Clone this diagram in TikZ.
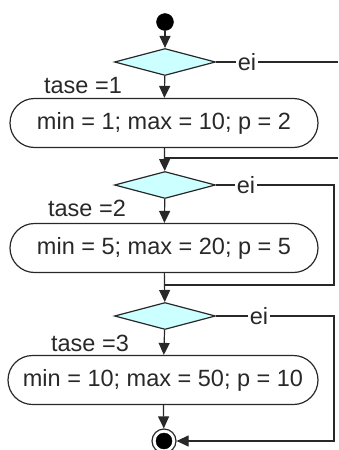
\documentclass[tikz,border=0pt]{standalone}
\usepackage{fontspec}
\setmainfont{Liberation Sans}
\usepackage{xcolor}
\usetikzlibrary{shapes.geometric, positioning, arrows.meta}

\definecolor{choicefill}{RGB}{204,255,255}
\definecolor{inkgray}{RGB}{40,40,40}

\tikzset{
  flowtext/.style={font=\fontsize{23.5}{28}\selectfont, text=inkgray},
  choice/.style={diamond, draw=inkgray, fill=choicefill, line width=1.2pt,
    minimum width=101pt, minimum height=27pt, inner sep=0pt},
  action/.style={rectangle, rounded corners=24.5pt, draw=inkgray, line width=1.2pt,
    minimum width=308pt, minimum height=49pt, inner sep=0pt, flowtext},
  guard/.style={inner sep=0pt, flowtext},
  eilabel/.style={fill=white, inner sep=2pt, flowtext},
  startdot/.style={circle, fill=black, draw=black, minimum size=17pt, inner sep=0pt},
  stopring/.style={circle, draw=inkgray, fill=white, line width=1.2pt, minimum size=24pt, inner sep=0pt},
  flow/.style={draw=inkgray, line width=1.2pt},
  arr/.style={flow, -{Triangle[length=12pt, width=11pt]}}
}

\begin{document}
\begin{tikzpicture}[x=1pt, y=-1pt]
        \useasboundingbox (0,0) rectangle (338,450);

        % Start
        \node[startdot] (start) at (165,22) {};

        % Decision 1
        \node[choice] (d1) at (165,62) {};
        \node[eilabel] (e1) at (247,62) {ei};
        \coordinate (r1) at (338,62);
        \node[guard] (t1) at (83,86) {tase =1};
        \node[action] (a1) at (164,123) {min = 1; max = 10; p = 2};

        \draw[arr] (start) -- (d1);
        \draw[flow] (d1.east) -- (e1) -- (r1);
        \draw[arr] (d1) -- (a1);

        % Merge from the right
        \coordinate (m1) at (165,158);
        \coordinate (r2) at (338,158);
        \draw[flow] (r2) -- (m1);

        % Decision 2
        \node[choice] (d2) at (165,185) {};
        \node[eilabel] (e2) at (246,185) {ei};
        \node[guard] (t2) at (87,208) {tase =2};
        \node[action] (a2) at (164,248) {min = 5; max = 20; p = 5};
        \coordinate (k2) at (334,285);
        \coordinate (m2) at (165,285);

        \draw[arr] (a1) -- (d2);
        \draw[flow] (d2.east) -- (e2) -| (k2) -- (m2);
        \draw[arr] (d2) -- (a2);

        % Decision 3
        \node[choice] (d3) at (165,316) {};
        \node[eilabel] (e3) at (259,316) {ei};
        \node[guard] (t3) at (90,343) {tase =3};
        \node[action, minimum width=310pt] (a3) at (163,380) {min = 10; max = 50; p = 10};

        \draw[arr] (a2) -- (d3);
        \draw[flow] (d3.east) -- (e3);
        \draw[arr] (d3) -- (a3);

        % Stop
        \node[stopring] (stop) at (164,441) {};
        \node[startdot, minimum size=16pt] (stopdot) at (stop) {};
        \coordinate (k3) at (334,441);

        \draw[arr] (a3) -- (stop);
        \draw[arr] (e3) -| (k3) -- (stop);

    \end{tikzpicture}
\end{document}
